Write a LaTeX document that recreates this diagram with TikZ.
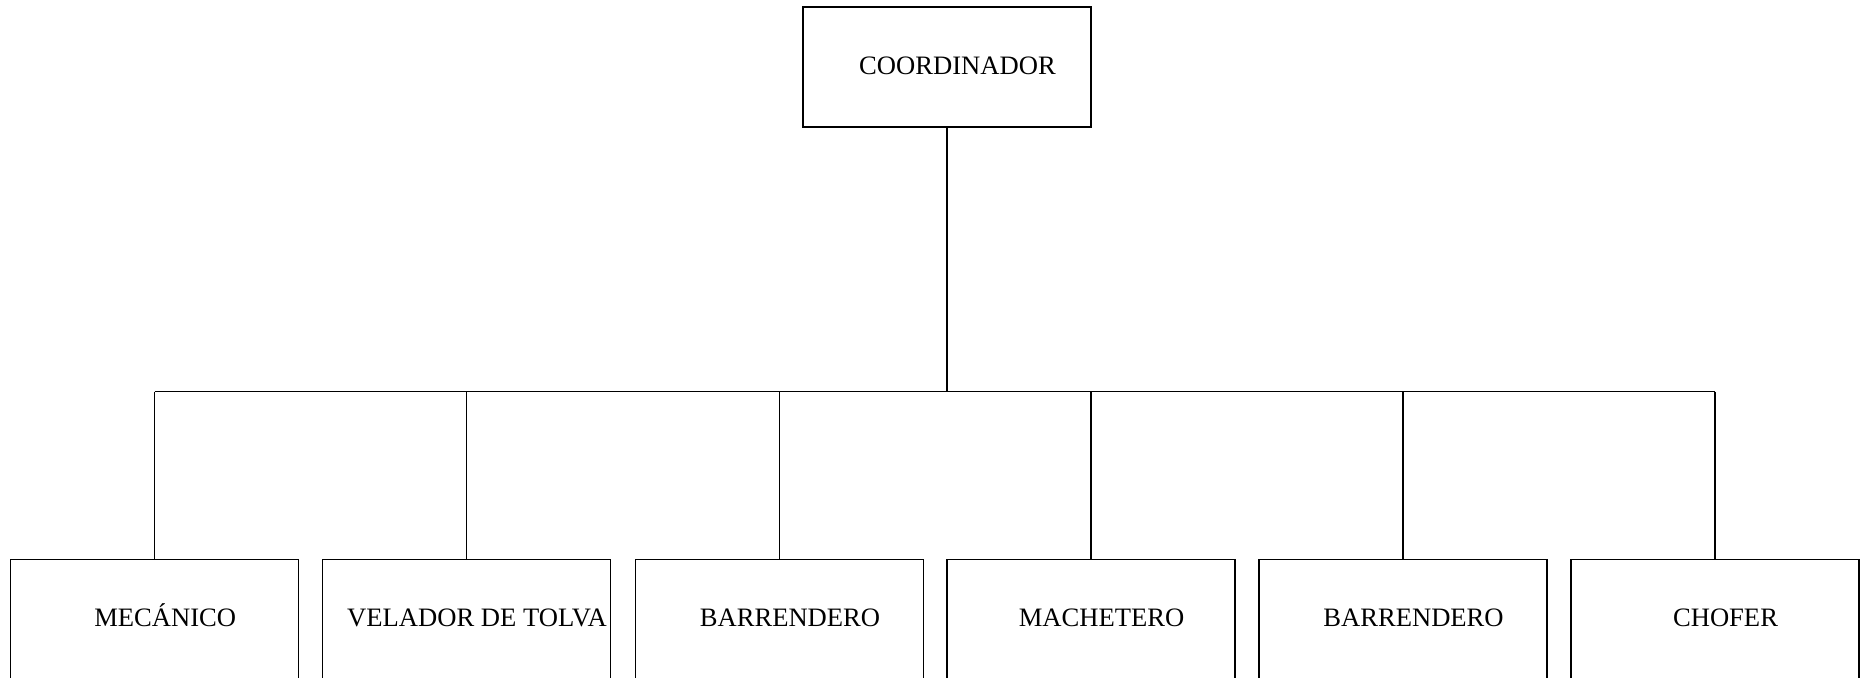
\documentclass[tikz,border=0pt]{standalone}
\usepackage{fontspec}
\setmainfont{Liberation Serif}
\begin{document}
\begin{tikzpicture}[x=0.5pt,y=-0.5pt,
  box/.style={draw,line width=0.6pt,rectangle,inner sep=0pt,minimum width=144pt,minimum height=60pt,
    font=\fontsize{13.3}{15}\selectfont,text height=8.8pt,text depth=1.2pt},
  link/.style={line width=0.6pt}]
\clip (0,0) rectangle (1866,677);
\path[use as bounding box] (0,0) rectangle (1866,677);
\node[box] (top) at (947,67) {\hspace{10.5pt}COORDINADOR};
\node[box] (b1) at (154.7,619.3) {\hspace{10.5pt}MECÁNICO};
\node[box] (b2) at (466.5,619.3) {\hspace{10.5pt}VELADOR DE TOLVA};
\node[box] (b3) at (779.5,619.3) {\hspace{10.5pt}BARRENDERO};
\node[box] (b4) at (1091,619.3) {\hspace{10.5pt}MACHETERO};
\node[box] (b5) at (1403,619.3) {\hspace{10.5pt}BARRENDERO};
\node[box] (b6) at (1715,619.3) {\hspace{10.5pt}CHOFER};
\coordinate (bus) at (947,391.5);
\draw[link] (top.south) -- (bus);
\draw[link] (bus -| b1.north) -- (bus -| b6.north);
\foreach \b in {b1,b2,b3,b4,b5,b6}{
  \draw[link] (bus -| \b.north) -- (\b.north);
}
\end{tikzpicture}
\end{document}
